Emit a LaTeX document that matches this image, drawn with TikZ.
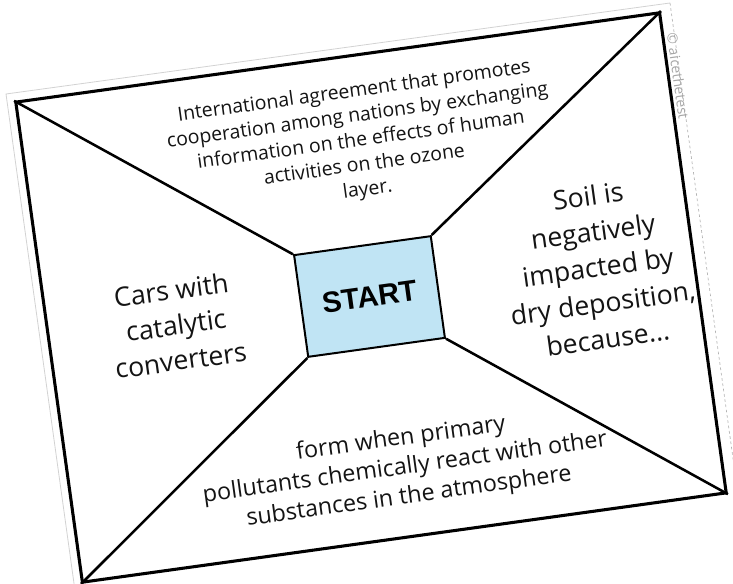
\documentclass[tikz,border=0pt]{standalone}
\usepackage{fontspec}
\setmainfont{Open Sans}
\newfontfamily\startfont{Liberation Sans}
\definecolor{startblue}{RGB}{192,228,244}
\definecolor{inkgray}{RGB}{20,20,20}
\tikzset{
  cardtext/.style={rotate=7.9, align=center, text=inkgray, inner sep=0pt},
  spoke/.style={line width=1.9pt},
}
\begin{document}
\begin{tikzpicture}[x=0.75pt,y=-0.75pt]
\useasboundingbox (0,0) rectangle (733,584);
\clip (0,0) rectangle (733,584);
% sheet outline behind the card
\coordinate (pTL) at (6,94);
\coordinate (pTR) at (670,3);
\coordinate (pBL) at (77,605);
\coordinate (pBR) at (745,545);
\draw[gray!35, line width=0.6pt] (pBL) -- (pTL) -- (pTR);
\draw[gray!60, line width=0.5pt, dash pattern=on 2pt off 2pt] (pTR) -- (pBR);
\node[rotate=-82.1, text=gray!70, font=\fontsize{10.5}{12}\selectfont] (mark) at (678,76) {© aicethetest};
% card and centre box
\node[draw, line width=2.3pt, rotate=7.9, fill=white, minimum width=487.5pt, minimum height=363.5pt] (card) at (371,297.5) {};
\node[draw, line width=1.5pt, rotate=7.9, fill=startblue, minimum width=103.5pt, minimum height=77pt, font=\startfont\bfseries\fontsize{22}{26}\selectfont] (start) at (369.5,296.5) {START};
\draw[spoke] (card.north west) -- (start.north west);
\draw[spoke] (card.north east) -- (start.north east);
\draw[spoke] (card.south east) -- (start.south east);
\draw[spoke] (card.south west) -- (start.south west);
% the four fields
\node[cardtext, font=\fontsize{14.6}{18.6}\selectfont] (top) at (361,141) {International agreement that promotes\\cooperation among nations by exchanging\\information on the effects of human\\activities on the ozone\\layer.};
\node[cardtext, font=\fontsize{20}{26.5}\selectfont] (left) at (176,325) {Cars with\\catalytic\\converters};
\node[cardtext, font=\fontsize{20}{27}\selectfont] (right) at (598,267) {Soil is\\negatively\\impacted by\\dry deposition,\\because...};
\node[cardtext, font=\fontsize{17.5}{22}\selectfont] (bottom) at (405,468) {form when primary\\pollutants chemically react with other\\substances in the atmosphere};
\end{tikzpicture}
\end{document}
